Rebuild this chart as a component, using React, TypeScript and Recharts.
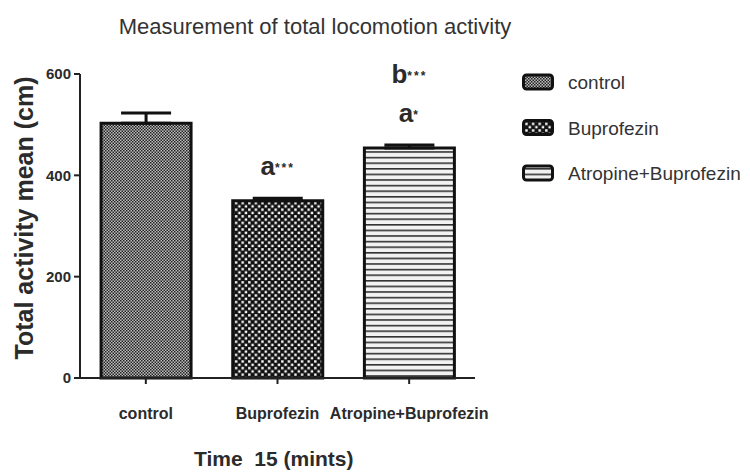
import React from 'react';
import { BarChart, Bar, XAxis, YAxis, Cell, ErrorBar, LabelList } from 'recharts';

const groups = ['control', 'Buprofezin', 'Atropine+Buprofezin'];
const means = [503, 350, 454];
const sems = [20, 5, 6];
const lowerLetters = ['', 'a', 'a'];
const lowerStars = ['', '***', '*'];
const upperLetters = ['', '', 'b'];
const upperStars = ['', '', '***'];
const yTicks = [0, 200, 400, 600];

const patternIds = ['patControl', 'patBup', 'patAtr'];

const data = groups.map((g, i) => ({
  name: g,
  value: means[i],
  err: [0, sems[i]],
}));

const FONT = 'Liberation Sans, Arial, sans-serif';
const INK = '#2b2b2b';

function Patterns() {
  return (
    <defs>
      <pattern id="patControl" width="3" height="3" patternUnits="userSpaceOnUse">
        <rect width="3" height="3" fill="#bdbdbd" />
        <rect x="0" y="0" width="1.5" height="1.5" fill="#222" />
        <rect x="1.5" y="1.5" width="1.5" height="1.5" fill="#222" />
      </pattern>
      <pattern id="patBup" width="6.6" height="6.6" patternUnits="userSpaceOnUse">
        <rect width="6.6" height="6.6" fill="#111" />
        <rect x="0.6" y="0.6" width="2.4" height="2.4" fill="#fff" />
        <rect x="3.9" y="3.9" width="2.4" height="2.4" fill="#fff" />
      </pattern>
      <pattern id="patAtr" width="6" height="5.6" patternUnits="userSpaceOnUse">
        <rect width="6" height="5.6" fill="#f2f2f2" />
        <rect x="0" y="0" width="6" height="1.6" fill="#333" />
      </pattern>
    </defs>
  );
}

function Annotation(props: any) {
  const { x, y, width, index } = props;
  const cx = x + width / 2;
  const lo = lowerLetters[index];
  const up = upperLetters[index];
  return (
    <g fontFamily={FONT} fontWeight="bold" fill={INK}>
      {lo && (
        <text x={cx} y={y - 26} textAnchor="middle">
          <tspan fontSize={26}>{lo}</tspan>
          <tspan fontSize={12} dy={-3} letterSpacing={2}>{lowerStars[index]}</tspan>
        </text>
      )}
      {up && (
        <text x={cx} y={y - 65} textAnchor="middle">
          <tspan fontSize={26}>{up}</tspan>
          <tspan fontSize={12} dy={-3} letterSpacing={2}>{upperStars[index]}</tspan>
        </text>
      )}
    </g>
  );
}

export default function App() {
  return (
    <div style={{ position: 'absolute', left: 0, top: 0, width: 750, height: 474, background: '#fff', overflow: 'hidden' }}>
      <BarChart
        width={750}
        height={474}
        data={data}
        margin={{ top: 74, right: 275, bottom: 56, left: 30 }}
        barCategoryGap="16%"
      >
        <Patterns />
        <XAxis
          dataKey="name"
          height={40}
          interval={0}
          tick={{ fill: INK, fontSize: 16, fontWeight: 'bold', fontFamily: FONT }}
          tickMargin={24}
          tickSize={6}
          axisLine={{ stroke: '#222', strokeWidth: 2 }}
          tickLine={{ stroke: '#222', strokeWidth: 2 }}
        />
        <YAxis
          width={50}
          domain={[0, 600]}
          ticks={yTicks}
          tick={{ fill: INK, fontSize: 15, fontWeight: 'bold', fontFamily: FONT }}
          tickSize={6}
          tickMargin={3}
          axisLine={{ stroke: '#222', strokeWidth: 2 }}
          tickLine={{ stroke: '#222', strokeWidth: 2 }}
        />
        <Bar dataKey="value" stroke="#111" strokeWidth={3} isAnimationActive={false}>
          {data.map((d, i) => (
            <Cell key={d.name} fill={`url(#${patternIds[i]})`} />
          ))}
          <ErrorBar dataKey="err" width={25} stroke="#111" strokeWidth={3} direction="y" />
          <LabelList dataKey="value" content={<Annotation />} />
        </Bar>
      </BarChart>
      <svg
        width={750}
        height={474}
        style={{ position: 'absolute', left: 0, top: 0, pointerEvents: 'none' }}
        fontFamily={FONT}
      >
        <text x={315} y={34} textAnchor="middle" fontSize={22} fill="#333">
          Measurement of total locomotion activity
        </text>
        <text
          x={33}
          y={218}
          transform="rotate(-90 33 218)"
          textAnchor="middle"
          fontSize={25}
          fontWeight="bold"
          fill={INK}
        >
          Total activity mean (cm)
        </text>
        <text x={194} y={466} fontSize={21} fontWeight="bold" fill={INK} style={{ whiteSpace: 'pre' }}>
          Time  15 (mints)
        </text>
        {groups.map((g, i) => {
          const cy = 82 + i * 45.5;
          return (
            <g key={g}>
              <rect
                x={523.5}
                y={cy - 7}
                width={29}
                height={14}
                rx={3}
                fill={`url(#${patternIds[i]})`}
                stroke="#111"
                strokeWidth={3}
              />
              <text x={568} y={cy + 7} fontSize={19} fill="#333">
                {g}
              </text>
            </g>
          );
        })}
      </svg>
    </div>
  );
}
